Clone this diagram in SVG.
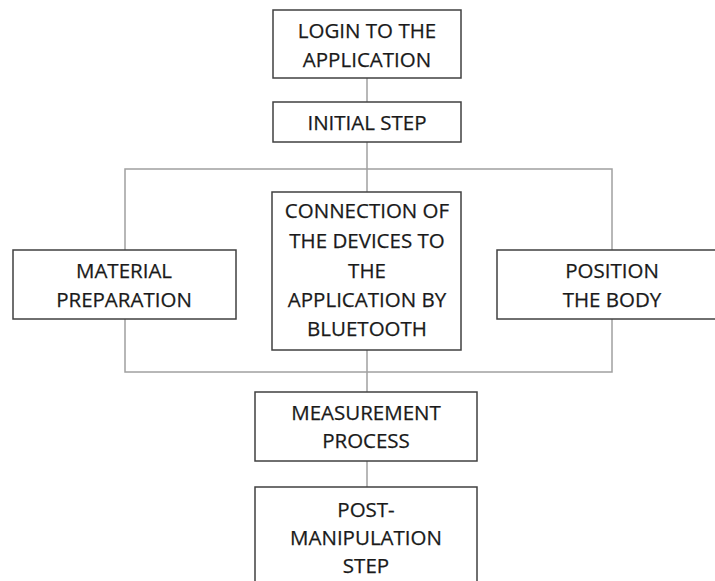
<svg xmlns="http://www.w3.org/2000/svg" width="715" height="581" viewBox="0 0 715 581">
<style>
.box{fill:#fff;stroke:#404040;stroke-width:1.5}
.conn{fill:none;stroke:#a0a0a0;stroke-width:1.5}
text{font-family:"Open Sans","DejaVu Sans",sans-serif;font-size:20.5px;fill:#1a1a1a;stroke:#1a1a1a;stroke-width:0.25;text-anchor:middle}
</style>
<rect width="715" height="581" fill="#fff"/>
<g id="connectors">
<line class="conn" x1="367" y1="78" x2="367" y2="102"/>
<line class="conn" x1="367" y1="142" x2="367" y2="192"/>
<rect class="conn" x="125" y="169" width="487" height="203"/>
<line class="conn" x1="367" y1="350" x2="367" y2="392"/>
<line class="conn" x1="367" y1="461" x2="367" y2="487"/>
</g>
<g id="login">
<rect class="box" x="273" y="10" width="188" height="68"/>
<text x="367" y="38">LOGIN TO THE</text>
<text x="367" y="67">APPLICATION</text>
</g>
<g id="initial">
<rect class="box" x="273" y="102" width="188" height="40"/>
<text x="367" y="130">INITIAL STEP</text>
</g>
<g id="material">
<rect class="box" x="13" y="250" width="223" height="69"/>
<text x="124" y="278">MATERIAL</text>
<text x="124" y="307">PREPARATION</text>
</g>
<g id="connection">
<rect class="box" x="272" y="192" width="189" height="158"/>
<text x="367" y="218">CONNECTION OF</text>
<text x="367" y="248">THE DEVICES TO</text>
<text x="367" y="278">THE</text>
<text x="367" y="307">APPLICATION BY</text>
<text x="367" y="336">BLUETOOTH</text>
</g>
<g id="position">
<rect class="box" x="497" y="250" width="230" height="69"/>
<text x="612" y="278">POSITION</text>
<text x="612" y="307">THE BODY</text>
</g>
<g id="measurement">
<rect class="box" x="255" y="392" width="222" height="69"/>
<text x="366" y="420">MEASUREMENT</text>
<text x="366" y="448">PROCESS</text>
</g>
<g id="post">
<rect class="box" x="255" y="487" width="222" height="110"/>
<text x="366" y="517">POST-</text>
<text x="366" y="545">MANIPULATION</text>
<text x="366" y="573">STEP</text>
</g>
</svg>
